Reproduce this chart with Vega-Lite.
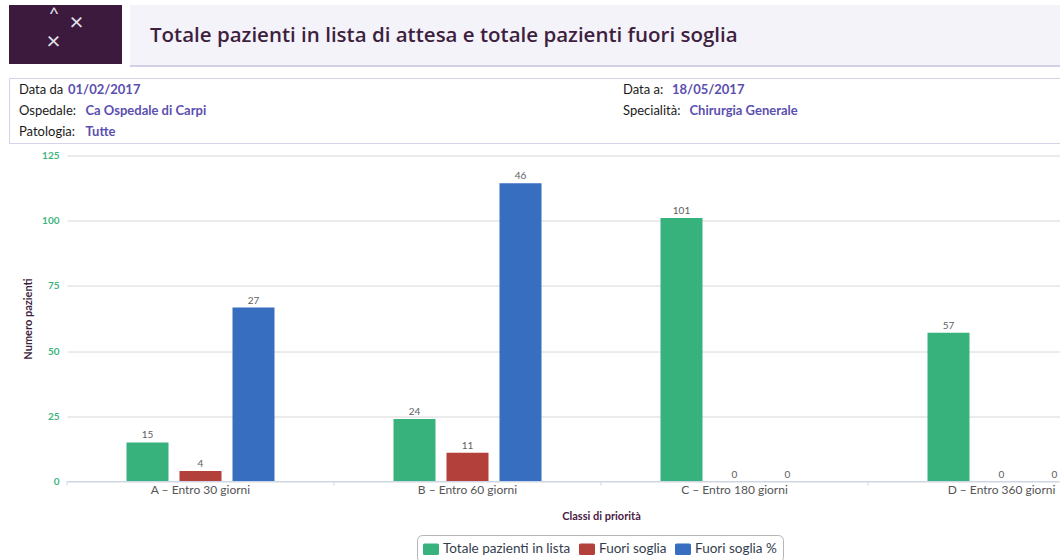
{
  "$schema": "https://vega.github.io/schema/vega-lite/v6.json",
  "padding": {"left": 8, "top": 5, "right": 0, "bottom": 0},
  "background": "#ffffff",
  "config": {
    "font": "Lato",
    "view": {"stroke": null}
  },
  "datasets": {
    "barre": [
      {"classe": "A – Entro 30 giorni", "serie": "Totale pazienti in lista", "valore": 15, "etichetta": "15"},
      {"classe": "A – Entro 30 giorni", "serie": "Fuori soglia", "valore": 4, "etichetta": "4"},
      {"classe": "A – Entro 30 giorni", "serie": "Fuori soglia %", "valore": 66.7, "etichetta": "27"},
      {"classe": "B – Entro 60 giorni", "serie": "Totale pazienti in lista", "valore": 24, "etichetta": "24"},
      {"classe": "B – Entro 60 giorni", "serie": "Fuori soglia", "valore": 11, "etichetta": "11"},
      {"classe": "B – Entro 60 giorni", "serie": "Fuori soglia %", "valore": 114.4, "etichetta": "46"},
      {"classe": "C – Entro 180 giorni", "serie": "Totale pazienti in lista", "valore": 101, "etichetta": "101"},
      {"classe": "C – Entro 180 giorni", "serie": "Fuori soglia", "valore": 0, "etichetta": "0"},
      {"classe": "C – Entro 180 giorni", "serie": "Fuori soglia %", "valore": 0, "etichetta": "0"},
      {"classe": "D – Entro 360 giorni", "serie": "Totale pazienti in lista", "valore": 57, "etichetta": "57"},
      {"classe": "D – Entro 360 giorni", "serie": "Fuori soglia", "valore": 0, "etichetta": "0"},
      {"classe": "D – Entro 360 giorni", "serie": "Fuori soglia %", "valore": 0, "etichetta": "0"}
    ],
    "info": [
      {"colonna": "sinistra", "riga": 1, "etichetta": "Data da", "valore": "01/02/2017"},
      {"colonna": "sinistra", "riga": 2, "etichetta": "Ospedale:", "valore": "Ca Ospedale di Carpi"},
      {"colonna": "sinistra", "riga": 3, "etichetta": "Patologia:", "valore": "Tutte"},
      {"colonna": "destra", "riga": 1, "etichetta": "Data a:", "valore": "18/05/2017"},
      {"colonna": "destra", "riga": 2, "etichetta": "Specialità:", "valore": "Chirurgia Generale"}
    ],
    "uno": [{"id": 1}]
  },
  "vconcat": [
    {
      "vconcat": [
        {
          "hconcat": [
            {
              "width": 113,
              "height": 59,
              "view": {"fill": "#3b1a3e", "stroke": null},
              "data": {"name": "uno"},
              "layer": [
                {"mark": {"type": "text", "text": "^", "color": "#e6e1e8", "fontSize": 18, "dx": -11.5, "dy": -20}, "encoding": {}},
                {"mark": {"type": "text", "text": "×", "color": "#e6e1e8", "fontSize": 24, "dx": 11, "dy": -12}, "encoding": {}},
                {"mark": {"type": "text", "text": "×", "color": "#e6e1e8", "fontSize": 24, "dx": -12, "dy": 7}, "encoding": {}}
              ]
            },
            {
              "vconcat": [
                {
                  "width": 931,
                  "height": 60,
                  "view": {"fill": "#f4f3f9", "stroke": null},
                  "data": {"name": "uno"},
                  "mark": {"type": "text", "text": "Totale pazienti in lista di attesa e totale pazienti fuori soglia", "align": "left", "baseline": "middle", "dx": -445.5, "dy": 1, "font": "Open Sans", "fontSize": 20.5, "fontWeight": 600, "color": "#3e1f40"},
                  "encoding": {}
                },
                {
                  "width": 931,
                  "height": 2,
                  "view": {"fill": "#d3cfe7", "stroke": null},
                  "data": {"name": "uno"},
                  "mark": {"type": "text", "text": "", "fontSize": 1},
                  "encoding": {}
                }
              ],
              "spacing": 0
            }
          ],
          "spacing": 8
        },
        {
          "width": 1051,
          "height": 65,
          "view": {"fill": "#ffffff", "stroke": "#d6d2ea", "strokeWidth": 1},
          "data": {"name": "info"},
          "encoding": {
            "x": {"field": "colonna", "type": "nominal", "scale": {"type": "point", "domain": ["sinistra", "destra"], "range": [10, 614], "padding": 0}, "axis": null},
            "y": {"field": "riga", "type": "ordinal", "scale": {"type": "point", "domain": [1, 2, 3], "range": [12, 54], "padding": 0}, "axis": null}
          },
          "layer": [
            {"mark": {"type": "text", "align": "left", "baseline": "middle", "fontSize": 13, "color": "#1a1a1a"}, "encoding": {"text": {"field": "etichetta"}}},
            {"transform": [{"filter": "datum.riga === 1"}], "mark": {"type": "text", "align": "left", "baseline": "middle", "fontSize": 13, "fontWeight": "bold", "color": "#5b4fb0", "dx": 49}, "encoding": {"text": {"field": "valore"}}},
            {"transform": [{"filter": "datum.riga !== 1"}], "mark": {"type": "text", "align": "left", "baseline": "middle", "fontSize": 13, "fontWeight": "bold", "color": "#5b4fb0", "dx": 66.5}, "encoding": {"text": {"field": "valore"}}}
          ]
        }
      ],
      "spacing": 10
    },
    {
      "hconcat": [
        {
          "width": 13,
          "height": 1,
          "data": {"name": "uno"},
          "mark": {"type": "text", "text": "", "fontSize": 1},
          "encoding": {}
        },
        {
          "width": 992,
          "height": 326,
          "data": {"name": "barre"},
          "layer": [
            {
              "transform": [{"filter": "datum.valore > 0"}],
              "mark": {"type": "bar", "strokeWidth": 0},
              "encoding": {
                "x": {"field": "classe", "type": "nominal", "sort": null, "scale": {"type": "band", "range": [0, 1068], "paddingInner": 0.0487, "paddingOuter": 0.02435},
                  "axis": {"title": "Classi di priorità", "domain": false, "ticks": false, "labelAngle": 0, "labelColor": "#555555", "labelFontSize": 12, "labelPadding": 3, "titleColor": "#4a2145", "titleFontSize": 11, "titleFontWeight": "bold", "titlePadding": 15}},
                "xOffset": {"field": "serie", "type": "nominal", "scale": {"domain": ["Totale pazienti in lista", "Fuori soglia", "Fuori soglia %"], "paddingInner": 0.2075, "paddingOuter": 1}},
                "y": {"field": "valore", "type": "quantitative", "scale": {"domain": [0, 125], "nice": false},
                  "axis": {"title": "Numero pazienti", "values": [0, 25, 50, 75, 100, 125], "domain": false, "ticks": false, "grid": true, "gridColor": "#d8d8d8", "labelColor": "#40b47f", "labelFontSize": 10, "labelFontWeight": "bold", "labelPadding": 8, "titleColor": "#3e1f40", "titleFontSize": 11, "titleFontWeight": "bold", "titlePadding": 8}},
                "color": {"field": "serie", "type": "nominal",
                  "scale": {"domain": ["Totale pazienti in lista", "Fuori soglia", "Fuori soglia %"], "range": ["#38b27c", "#b4403b", "#376ec0"]},
                  "legend": {"title": null, "orient": "none", "legendX": 408, "legendY": 530, "direction": "horizontal",
                    "symbolType": "M-0.8,-0.72H0.8A0.2,0.2 0 0 1 1,-0.52V0.52A0.2,0.2 0 0 1 0.8,0.72H-0.8A0.2,0.2 0 0 1 -1,0.52V-0.52A0.2,0.2 0 0 1 -0.8,-0.72Z",
                    "symbolSize": 256, "symbolStrokeWidth": 0, "symbolOpacity": 1,
                    "labelFontSize": 13.5, "labelColor": "#333d4d", "labelOffset": 4, "columnPadding": 8,
                    "strokeColor": "#b5b5b5", "cornerRadius": 5, "padding": 6, "fillColor": "#ffffff"}}
              }
            },
            {
              "mark": {"type": "text", "baseline": "alphabetic", "dy": -4, "fontSize": 10, "color": "#606060"},
              "encoding": {
                "x": {"field": "classe", "type": "nominal", "sort": null},
                "xOffset": {"field": "serie", "type": "nominal"},
                "y": {"field": "valore", "type": "quantitative"},
                "text": {"field": "etichetta"}
              }
            },
            {
              "mark": {"type": "rule", "color": "#ccd6eb", "strokeWidth": 1},
              "encoding": {"y": {"datum": 0}}
            },
            {
              "transform": [{"filter": "datum.serie === 'Totale pazienti in lista'"}],
              "mark": {"type": "rule", "color": "#ccd6eb", "strokeWidth": 1},
              "encoding": {
                "x": {"field": "classe", "type": "nominal", "sort": null, "bandPosition": -0.0256},
                "y": {"datum": 0},
                "y2": {"datum": -1.6}
              }
            }
          ]
        }
      ],
      "spacing": 0
    }
  ],
  "spacing": 6.5
}
